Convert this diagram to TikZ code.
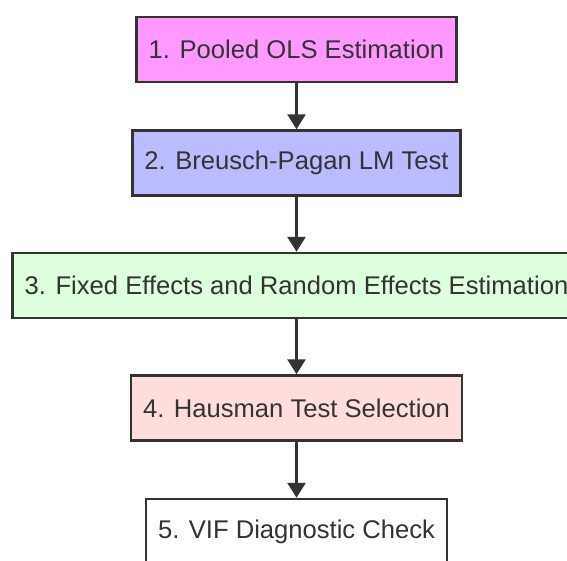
\documentclass[tikz,border=0pt]{standalone}
\usepackage{fontspec}
\setmainfont{Liberation Sans}
\usetikzlibrary{arrows.meta,positioning}
\definecolor{edgegray}{HTML}{333333}
\definecolor{olspink}{HTML}{FF99FF}
\definecolor{lmblue}{HTML}{BBBBFF}
\definecolor{fegreen}{HTML}{DDFFDD}
\definecolor{hausred}{HTML}{FFDDDD}
\tikzset{
  stepbox/.style={rectangle, draw=edgegray, line width=2.5pt, text=edgegray,
    font=\fontsize{25.6}{30}\selectfont, inner xsep=12pt, minimum height=65pt},
  flow/.style={-{Triangle[length=15pt, width=18pt]}, line width=2.8pt, edgegray},
}

\begin{document}
\begin{tikzpicture}[x=1pt, y=1pt]
\useasboundingbox (0,0) rectangle (567,-560);
\clip (0,0) rectangle (567,-560);

% ---------------- steps ----------------
\node[stepbox, fill=olspink] (n-pooled) at (296.5,-49.5) {1. Pooled OLS Estimation};
\node[stepbox, fill=lmblue, below=46pt of n-pooled] (n-bp) {2. Breusch-Pagan LM Test};
\node[stepbox, fill=fegreen, below=55pt of n-bp] (n-fere) {3. Fixed Effects and Random Effects Estimation};
\node[stepbox, fill=hausred, below=55pt of n-fere] (n-haus) {4. Hausman Test Selection};
\node[stepbox, fill=white, below=56pt of n-haus] (n-vif) {5. VIF Diagnostic Check};

% ---------------- arrows ----------------
\draw[flow] (n-pooled) -- (n-bp);
\draw[flow] (n-bp)     -- (n-fere);
\draw[flow] (n-fere)   -- (n-haus);
\draw[flow] (n-haus)   -- (n-vif);

\end{tikzpicture}
\end{document}
